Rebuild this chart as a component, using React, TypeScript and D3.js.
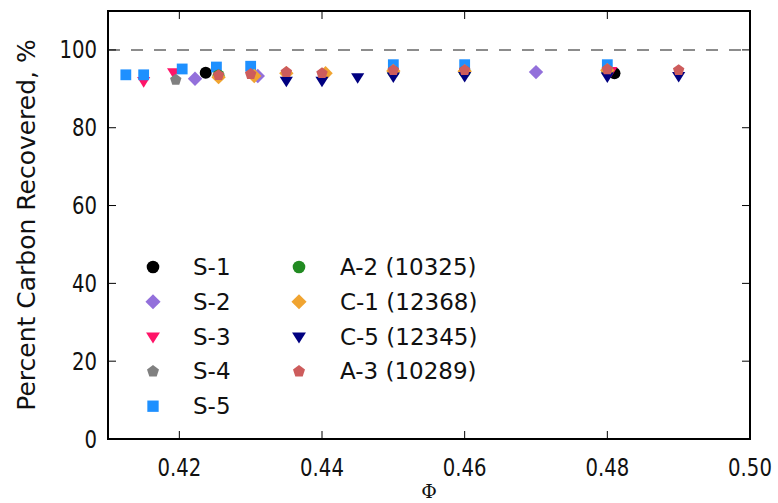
import React from "react";
import * as d3 from "d3";

const WIDTH = 778;
const HEIGHT = 503;
const PLOT = { left: 108, right: 750, top: 11, bottom: 439 };

const phiDomain: [number, number] = [0.41, 0.5];
const pctDomain: [number, number] = [0, 110];
const xTicks = [0.42, 0.44, 0.46, 0.48, 0.5];
const yTicks = [0, 20, 40, 60, 80, 100];
const fullRecovery = 100;

// [Φ, percent carbon recovered]
const s1: [number, number][] = [[0.4237, 94.1], [0.481, 94.0]];
const s2: [number, number][] = [[0.4222, 92.6], [0.431, 93.3], [0.47, 94.3]];
const s3: [number, number][] = [[0.415, 92.0], [0.4192, 94.3], [0.4805, 94.6]];
const s4: [number, number][] = [[0.4195, 92.3]];
const s5: [number, number][] = [
  [0.4125, 93.6], [0.415, 93.6], [0.4204, 95.1], [0.4252, 95.6],
  [0.43, 95.8], [0.45, 96.2], [0.46, 96.2], [0.48, 96.2],
];
const a2: [number, number][] = [[0.4255, 93.4], [0.45, 94.4], [0.46, 94.4], [0.48, 94.6]];
const c1: [number, number][] = [
  [0.4255, 93.0], [0.4305, 93.3], [0.435, 94.0], [0.4405, 94.0],
  [0.45, 94.6], [0.46, 94.5], [0.48, 94.8],
];
const c5: [number, number][] = [
  [0.435, 92.1], [0.44, 92.1], [0.445, 93.0], [0.45, 93.2],
  [0.46, 93.3], [0.48, 93.2], [0.49, 93.3],
];
const a3: [number, number][] = [
  [0.4255, 93.5], [0.43, 93.8], [0.435, 94.3], [0.44, 94.0],
  [0.45, 94.8], [0.46, 94.8], [0.48, 95.0], [0.49, 94.8],
];

const seriesNames = ["S-1", "S-2", "S-3", "S-4", "S-5", "A-2 (10325)", "C-1 (12368)", "C-5 (12345)", "A-3 (10289)"];
const seriesData = [s1, s2, s3, s4, s5, a2, c1, c5, a3];
const seriesColors = ["#000000", "#9370db", "#ff1468", "#808080", "#1e90ff", "#228b22", "#f0a431", "#000080", "#cd5c5c"];
const seriesShapes = ["circle", "diamond", "triangleDown", "pentagon", "square", "circle", "diamond", "triangleDown", "pentagon"];

function markerPath(shape: string, r: number): string {
  const p = d3.path();
  if (shape === "circle") {
    p.arc(0, 0, r, 0, Math.PI * 2);
  } else if (shape === "square") {
    const h = r * 0.9;
    p.rect(-h, -h, 2 * h, 2 * h);
  } else if (shape === "diamond") {
    const h = r * 1.2;
    p.moveTo(0, -h); p.lineTo(h, 0); p.lineTo(0, h); p.lineTo(-h, 0); p.closePath();
  } else if (shape === "triangleDown") {
    const h = r * 1.1;
    p.moveTo(-h, -h * 0.6); p.lineTo(h, -h * 0.6); p.lineTo(0, h); p.closePath();
  } else if (shape === "pentagon") {
    for (let i = 0; i < 5; i++) {
      const a = -Math.PI / 2 + (i * 2 * Math.PI) / 5;
      const px = Math.cos(a) * r, py = Math.sin(a) * r;
      if (i === 0) p.moveTo(px, py); else p.lineTo(px, py);
    }
    p.closePath();
  }
  return p.toString();
}

export default function App() {
  const x = d3.scaleLinear().domain(phiDomain).range([PLOT.left, PLOT.right]);
  const y = d3.scaleLinear().domain(pctDomain).range([PLOT.bottom, PLOT.top]);
  const fmtX = d3.format(".2f");
  const tickLen = 8;
  const font = "DejaVu Sans, sans-serif";

  const legendRows = seriesNames.map((name, i) => {
    const col = i < 5 ? 0 : 1;
    const row = i < 5 ? i : i - 5;
    return { name, i, mx: col === 0 ? 153 : 299, tx: col === 0 ? 193 : 340, cy: 267 + row * 34.8 };
  });

  return (
    <svg width={WIDTH} height={HEIGHT} style={{ position: "absolute", left: 0, top: 0, background: "#fff" }}>
      <line x1={PLOT.left} x2={PLOT.right} y1={y(fullRecovery)} y2={y(fullRecovery)}
        stroke="#8c8c8c" strokeWidth={2} strokeDasharray="12,11" />

      {seriesData.map((pts, si) => (
        <g key={seriesNames[si]} fill={seriesColors[si]}>
          {pts.map((d, j) => (
            <path key={j} d={markerPath(seriesShapes[si], 6)} transform={`translate(${x(d[0])},${y(d[1])})`} />
          ))}
        </g>
      ))}

      {/* frame */}
      <rect x={PLOT.left} y={PLOT.top} width={PLOT.right - PLOT.left} height={PLOT.bottom - PLOT.top}
        fill="none" stroke="#000" strokeWidth={2} />

      {xTicks.map((t) => (
        <g key={`x${t}`}>
          <line x1={x(t)} x2={x(t)} y1={PLOT.bottom} y2={PLOT.bottom - tickLen} stroke="#000" strokeWidth={1} />
          <line x1={x(t)} x2={x(t)} y1={PLOT.top} y2={PLOT.top + tickLen} stroke="#000" strokeWidth={1} />
          <text transform={`translate(${x(t)},${476}) scale(0.82,1)`} textAnchor="middle" fontFamily={font} fontSize={24} fill="#111">
            {fmtX(t)}
          </text>
        </g>
      ))}
      {yTicks.map((t) => (
        <g key={`y${t}`}>
          <line x1={PLOT.left} x2={PLOT.left + tickLen} y1={y(t)} y2={y(t)} stroke="#000" strokeWidth={1} />
          <line x1={PLOT.right} x2={PLOT.right - tickLen} y1={y(t)} y2={y(t)} stroke="#000" strokeWidth={1} />
          <text transform={`translate(${97},${y(t) + 8.5}) scale(0.82,1)`} textAnchor="end" fontFamily={font} fontSize={24} fill="#111">
            {t}
          </text>
        </g>
      ))}

      <text transform={`translate(${35},${(PLOT.top + PLOT.bottom) / 2}) rotate(-90)`} textAnchor="middle"
        fontFamily={font} fontSize={25} fill="#111">
        Percent Carbon Recovered, %
      </text>
      <text x={(PLOT.left + PLOT.right) / 2} y={498} textAnchor="middle" fontFamily="DejaVu Serif, serif" fontSize={19} fill="#111">
        Φ
      </text>

      {legendRows.map((r) => (
        <g key={r.name}>
          <path d={markerPath(seriesShapes[r.i], 6.3)} fill={seriesColors[r.i]} transform={`translate(${r.mx},${r.cy})`} />
          <text x={r.tx} y={r.cy + 8} fontFamily={font} fontSize={23} fill="#111">{r.name}</text>
        </g>
      ))}
    </svg>
  );
}
